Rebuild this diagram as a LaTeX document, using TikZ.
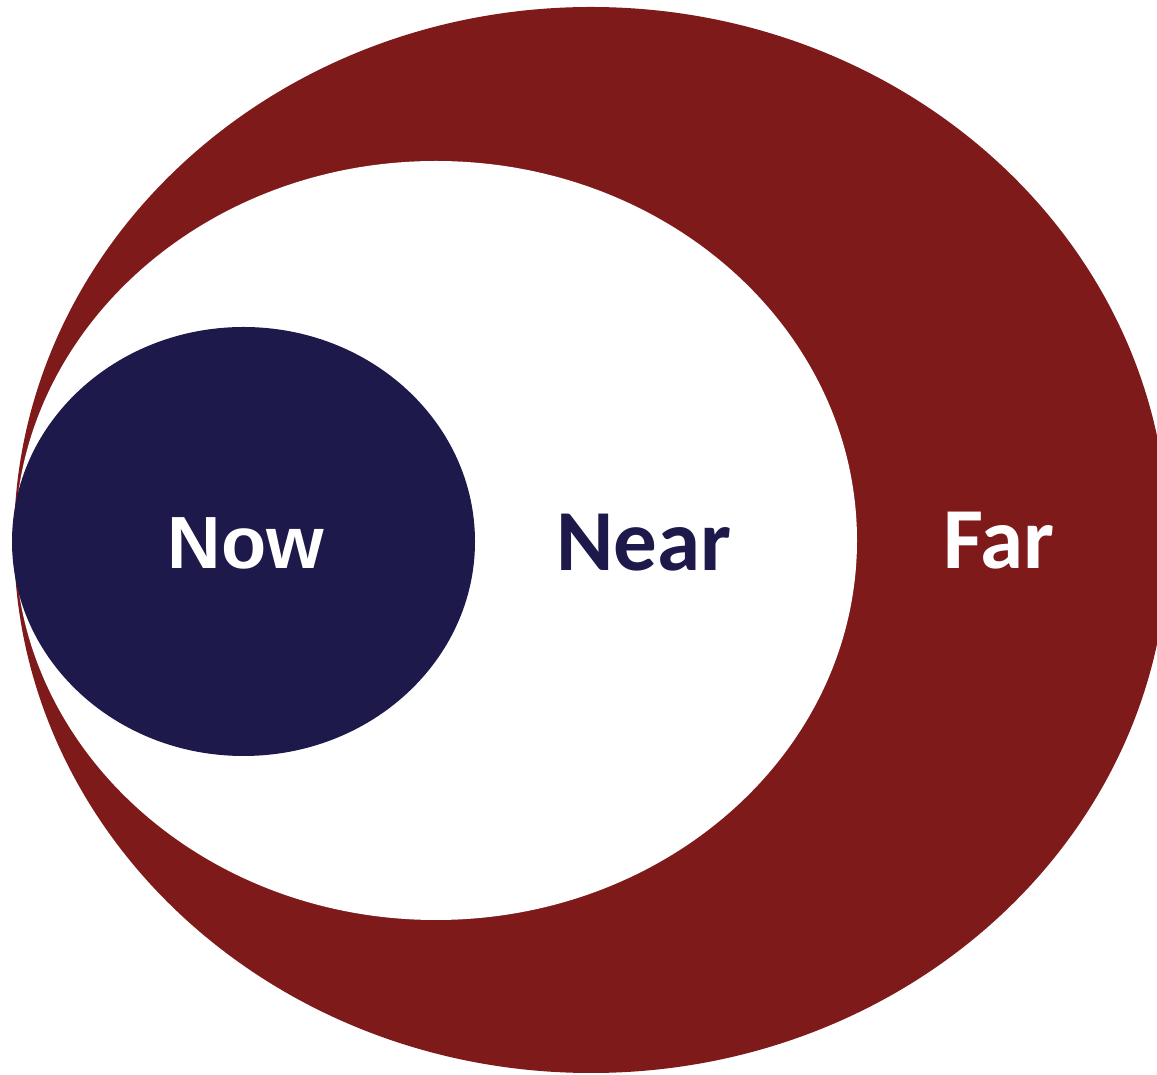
\documentclass[tikz,border=0pt]{standalone}
\usepackage{fontspec}
\setmainfont{Carlito}
\newfontfamily\arialfont{Liberation Sans}
\definecolor{farred}{RGB}{127,26,27}
\definecolor{nownavy}{RGB}{29,25,74}
\begin{document}
\begin{tikzpicture}[x=1pt,y=1pt,
  lbl/.style={font=\fontsize{87}{87}\selectfont\bfseries, inner sep=0pt, anchor=base},
  nowlbl/.style={font=\arialfont\fontsize{74}{74}\selectfont\bfseries, inner sep=0pt, anchor=base}]
\useasboundingbox (0,0) rectangle (1157,1074);
\clip (0,0) rectangle (1157,1074);
\fill[white] (0,0) rectangle (1157,1074);
\fill[farred] (591,534) ellipse [x radius=577, y radius=533];
\fill[white] (436,533.5) ellipse [x radius=421, y radius=379.5];
\fill[nownavy] (243.5,532.5) ellipse [x radius=231.5, y radius=214.5];
\node[nowlbl, text=white] (now) at (246,505) {Now};
\node[lbl, text=nownavy] (near) at (644,503) {Near};
\node[lbl, text=white] (far) at (999,505) {Far};
\end{tikzpicture}
\end{document}
